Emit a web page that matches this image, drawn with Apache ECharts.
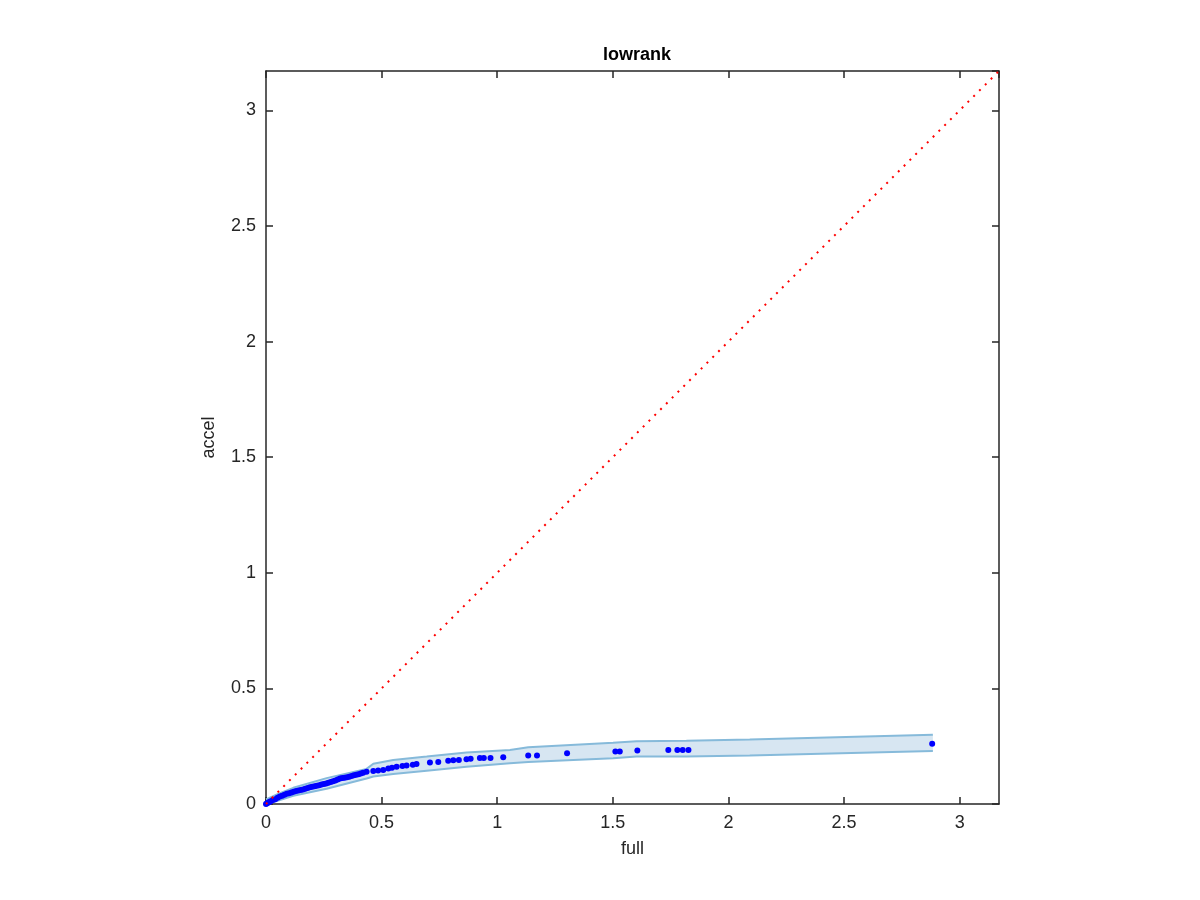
<!DOCTYPE html>
<html>
<head>
<meta charset="utf-8">
<script src="https://cdn.jsdelivr.net/npm/echarts@6/dist/echarts.min.js"></script>
<style>html,body{margin:0;padding:0;background:#fff;}#c{width:1200px;height:900px;}</style>
</head>
<body>
<div id="c"></div>
<script>
// ---- data ----
const titleText = 'lowrank';
const xName = 'full';
const yName = 'accel';
const axisMax = 3.17;
const tickStep = 0.5;

// scatter points (full, accel)
const pointsX = [0,0.005,0.01,0.015,0.02,0.03,0.04,0.05,0.06,0.07,0.08,0.09,0.10,0.11,0.12,0.13,0.14,0.15,0.16,0.17,0.18,0.19,0.20,0.21,0.22,0.23,0.24,0.25,0.26,0.27,0.28,0.29,0.30,0.31,0.32,0.33,0.34,0.35,0.36,0.37,0.38,0.39,0.40,0.41,0.42,0.435,0.464,0.485,0.507,0.529,0.545,0.565,0.59,0.608,0.635,0.651,0.709,0.745,0.788,0.810,0.834,0.867,0.885,0.925,0.942,0.971,1.026,1.134,1.172,1.302,1.511,1.530,1.606,1.740,1.779,1.802,1.827,2.881];
const pointsY = [0,0.003,0.006,0.009,0.012,0.017,0.021,0.027,0.032,0.036,0.040,0.044,0.047,0.050,0.053,0.056,0.058,0.061,0.063,0.066,0.069,0.072,0.075,0.077,0.079,0.081,0.084,0.086,0.089,0.092,0.095,0.098,0.102,0.106,0.110,0.112,0.114,0.116,0.118,0.121,0.124,0.126,0.129,0.132,0.135,0.140,0.143,0.145,0.147,0.154,0.157,0.161,0.164,0.166,0.170,0.173,0.180,0.182,0.187,0.189,0.190,0.193,0.196,0.199,0.199,0.199,0.202,0.210,0.210,0.219,0.227,0.227,0.231,0.233,0.233,0.233,0.233,0.261];

// confidence band
const bandX = [0,0.05,0.118,0.262,0.435,0.464,0.550,0.695,0.867,1.055,1.134,1.501,1.602,1.818,2.092,2.884];
const bandUpper = [0.02,0.042,0.07,0.112,0.152,0.174,0.190,0.205,0.223,0.234,0.245,0.265,0.271,0.273,0.279,0.300];
const bandLower = [0,0.014,0.036,0.066,0.110,0.119,0.130,0.144,0.161,0.176,0.182,0.198,0.205,0.205,0.210,0.229];

// reference line y = x
const refLine = [[0,0],[axisMax,axisMax]];

// ---- build options ----
const pts = pointsX.map((x,i)=>[x,pointsY[i]]);
const upperLine = bandX.map((x,i)=>[x,bandUpper[i]]);
const lowerLine = bandX.map((x,i)=>[x,bandLower[i]]);
const bandPoly = upperLine.concat(lowerLine.slice().reverse());

const fontFam = '"Liberation Sans", Arial, Helvetica, sans-serif';
const axisColor = '#262626';
const lbl = v => {
  const r = Math.round(v / tickStep) * tickStep;
  if (Math.abs(r - v) > 1e-6) return '';
  return String(Math.round(v*10)/10);
};

function mainAxis(isX){
  return {
    type:'value', min:0, max:axisMax, interval:tickStep,
    position: isX ? 'bottom' : 'left',
    name: isX ? xName : yName,
    nameLocation:'middle',
    nameGap: isX ? 36 : 48,
    nameTextStyle:{fontFamily:fontFam,fontSize:18,color:axisColor},
    axisLine:{show:true,onZero:false,lineStyle:{color:axisColor,width:1.5}},
    axisTick:{show:true,inside:true,length:7,lineStyle:{color:axisColor,width:1.5}},
    axisLabel:{show:true,formatter:lbl,fontFamily:fontFam,fontSize:18,color:axisColor,margin: isX?10:10, showMaxLabel:false},
    splitLine:{show:false}
  };
}
function mirrorAxis(isX){
  return {
    type:'value', min:0, max:axisMax, interval:tickStep,
    position: isX ? 'top' : 'right',
    axisLine:{show:true,onZero:false,lineStyle:{color:axisColor,width:1.5}},
    axisTick:{show:true,inside:true,length:7,lineStyle:{color:axisColor,width:1.5}},
    axisLabel:{show:false},
    splitLine:{show:false}
  };
}

const chart = echarts.init(document.getElementById('c'), null, {renderer:'canvas'});
chart.setOption({
  backgroundColor:'#ffffff',
  animation:false,
  title:{text:titleText,top:41,
    left:632, textAlign:'center',
    textStyle:{fontFamily:fontFam,fontSize:18,fontWeight:'bold',color:'#000'}},
  grid:{left:266,top:71,width:733,height:733,containLabel:false},
  xAxis:[mainAxis(true),mirrorAxis(true)],
  yAxis:[mainAxis(false),mirrorAxis(false)],
  series:[
    {
      type:'custom', xAxisIndex:0, yAxisIndex:0, silent:true, z:1,
      data:[0],
      renderItem:function(params, api){
        const points = bandPoly.map(p=>api.coord(p));
        return {type:'polygon', shape:{points:points},
          style:{fill:'#d7e6f2', stroke:null}};
      }
    },
    {type:'line', data:upperLine, symbol:'none', z:2, silent:true,
      lineStyle:{color:'#86bada',width:2}},
    {type:'line', data:lowerLine, symbol:'none', z:2, silent:true,
      lineStyle:{color:'#86bada',width:2}},
    {type:'scatter', data:pts, symbol:'circle', symbolSize:6, z:3,
      itemStyle:{color:'#0000ff',opacity:1}},
    {type:'line', data:refLine, symbol:'none', z:4, silent:true,
      lineStyle:{color:'#ff0000',width:2,type:[2,6.2]}}
  ]
});
</script>
</body>
</html>
